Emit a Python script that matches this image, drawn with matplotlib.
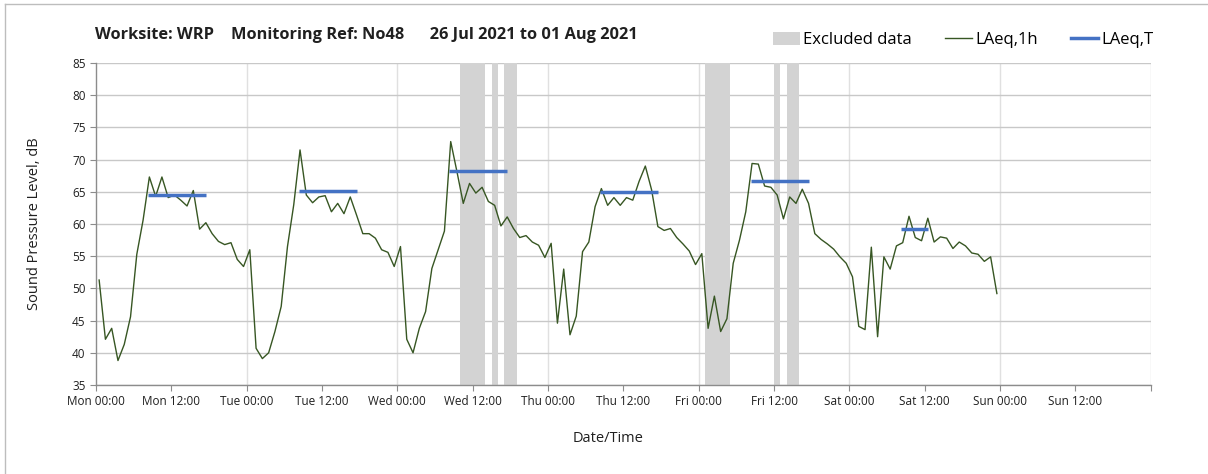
import matplotlib
matplotlib.use("Agg")
import matplotlib.pyplot as plt
from matplotlib.lines import Line2D
from matplotlib.patches import Patch

plt.rcParams['font.family'] = ['Open Sans', 'DejaVu Sans']

# Hourly LAeq,1h values, Mon 00:00 to Sat 23:00 (plotted at mid-hour)
laeq_1h = [
    51.3, 42.1, 43.8, 38.8, 41.3, 45.6, 55.3, 60.6, 67.3, 64.3, 67.3, 64.1,
    64.5, 63.7, 62.8, 65.2, 59.2, 60.2, 58.5, 57.3, 56.8, 57.1, 54.5, 53.4,
    56.0, 40.7, 39.1, 40.0, 43.3, 47.2, 56.5, 63.0, 71.5, 64.5, 63.3, 64.2,
    64.4, 61.9, 63.2, 61.6, 64.2, 61.4, 58.5, 58.5, 57.8, 56.0, 55.6, 53.4,
    56.5, 42.1, 40.0, 43.8, 46.4, 53.1, 56.0, 58.9, 72.8, 68.1, 63.2, 66.3,
    64.8, 65.7, 63.5, 62.9, 59.7, 61.1, 59.3, 57.9, 58.2, 57.2, 56.7, 54.8,
    57.0, 44.6, 53.0, 42.8, 45.7, 55.7, 57.2, 62.7, 65.5, 62.9, 64.1, 62.9,
    64.1, 63.7, 66.6, 69.0, 65.3, 59.6, 59.0, 59.3, 57.9, 56.9, 55.8, 53.7,
    55.4, 43.8, 48.8, 43.3, 45.3, 53.9, 57.5, 61.9, 69.4, 69.3, 65.9, 65.7,
    64.5, 60.8, 64.2, 63.2, 65.4, 63.2, 58.5, 57.6, 56.9, 56.1, 54.9, 53.9,
    51.8, 44.1, 43.6, 56.4, 42.5, 54.9, 53.0, 56.6, 57.1, 61.2, 57.9, 57.4,
    60.9, 57.2, 58.0, 57.8, 56.2, 57.2, 56.6, 55.5, 55.3, 54.2, 54.9, 49.2,
]
hours = [k + 0.5 for k in range(len(laeq_1h))]

# LAeq,T over each assessment period (hours from Mon 00:00)
period_start = [8.3, 32.3, 56.3, 80.3, 104.3, 128.3]
period_end = [17.5, 41.5, 65.5, 89.5, 113.5, 132.5]
laeq_t = [64.5, 65.2, 68.3, 64.9, 66.6, 59.2]

# Excluded periods (hours from Mon 00:00)
excl_start = [58, 63, 65, 97, 108, 110]
excl_end = [62, 64, 67, 101, 109, 112]

tick_hours = list(range(0, 169, 12))
tick_labels = ["Mon 00:00", "Mon 12:00", "Tue 00:00", "Tue 12:00", "Wed 00:00",
               "Wed 12:00", "Thu 00:00", "Thu 12:00", "Fri 00:00", "Fri 12:00",
               "Sat 00:00", "Sat 12:00", "Sun 00:00", "Sun 12:00", ""]

W, H = 1208, 474
fig = plt.figure(figsize=(W / 100, H / 100), dpi=100)
ax = fig.add_axes([96 / W, 1 - 385 / H, (1150.7 - 96) / W, (385 - 63) / H])

excl_color = "#d3d3d3"
green = "#375623"
blue = "#4472c4"
grid_c = "#c8c8c8"

for s, e in zip(excl_start, excl_end):
    ax.axvspan(s, e, color=excl_color, lw=0, zorder=1)

ax.plot(hours, laeq_1h, color=green, lw=1.0, zorder=3)
for s, e, v in zip(period_start, period_end, laeq_t):
    ax.plot([s, e], [v, v], color=blue, lw=2.5, zorder=4, solid_capstyle="butt")

ax.set_xlim(0, 168)
ax.set_ylim(35, 85)
ax.set_yticks(range(35, 86, 5))
ax.set_xticks(tick_hours)
ax.set_xticklabels(tick_labels)

ax.grid(axis="y", color=grid_c, lw=1.0, zorder=0)
for d in range(24, 169, 24):
    ax.axvline(d, color="#e0e0e0", lw=1.0, zorder=0)

for side in ("top", "right"):
    ax.spines[side].set_visible(False)
for side in ("left", "bottom"):
    ax.spines[side].set_color("#8c8c8c")
    ax.spines[side].set_linewidth(1.0)
ax.tick_params(axis="both", colors="#8c8c8c", labelcolor="#202020",
               labelsize=8.5, length=4, direction="out")
ax.tick_params(axis="x", pad=3)
ax.set_axisbelow(True)

ax.set_ylabel("Sound Pressure Level, dB", fontsize=10.5, color="#202020", labelpad=22)
fig.text(608 / W, 1 - 438 / H, "Date/Time", fontsize=10.5, color="#202020",
         ha="center", va="center")

fig.text(95 / W, 1 - 35 / H,
         "Worksite: WRP    Monitoring Ref: No48      26 Jul 2021 to 01 Aug 2021",
         fontsize=11.8, fontweight="bold", color="#202020", ha="left", va="center")

handles = [Patch(facecolor=excl_color, edgecolor="none"),
           Line2D([], [], color=green, lw=1.0),
           Line2D([], [], color=blue, lw=2.5)]
fig.legend(handles, ["Excluded data", "LAeq,1h", "LAeq,T"], ncol=3,
           loc="center left", bbox_to_anchor=(773 / W, 1 - 40 / H),
           frameon=False, fontsize=12, handlelength=1.6, handleheight=0.8,
           handletextpad=0.2, columnspacing=2.0, borderaxespad=0, borderpad=0)

# outer chart frame (left and top edges)
fig.add_artist(Line2D([5 / W, 5 / W], [0, 1 - 4 / H], transform=fig.transFigure,
                      color="#bdbdbd", lw=1.0))
fig.add_artist(Line2D([5 / W, 1], [1 - 4 / H, 1 - 4 / H], transform=fig.transFigure,
                      color="#bdbdbd", lw=1.0))

fig.savefig("out.png", dpi=100)
